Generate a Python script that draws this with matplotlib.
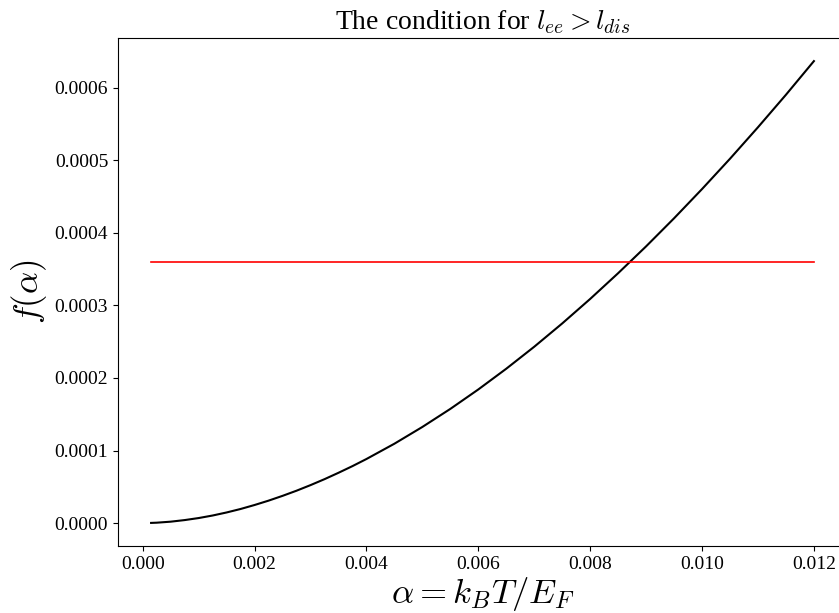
import matplotlib
matplotlib.use('Agg')
import matplotlib.pyplot as plt

# values
alpha = [0.00015, 0.00025, 0.0005, 0.00075, 0.001, 0.00125, 0.0015, 0.00175,
         0.002, 0.00225, 0.0025, 0.00275, 0.003, 0.00325, 0.0035, 0.00375,
         0.004, 0.0045, 0.005, 0.0055, 0.006, 0.0065, 0.007, 0.0075,
         0.008, 0.0085, 0.009, 0.0095, 0.010, 0.0105, 0.011, 0.0115, 0.012]
f_alpha = [0.0000002, 0.0000005, 0.0000019, 0.0000041, 0.0000069, 0.0000104,
           0.0000146, 0.0000194, 0.0000249, 0.0000309, 0.0000375, 0.0000446,
           0.0000523, 0.0000605, 0.0000693, 0.0000785, 0.0000883, 0.0001094,
           0.0001325, 0.0001574, 0.0001842, 0.0002128, 0.0002431, 0.0002752,
           0.0003090, 0.0003445, 0.0003815, 0.0004202, 0.0004605, 0.0005023,
           0.0005457, 0.0005905, 0.0006369]
limit_x = [0.00015, 0.012]
limit_y = [0.00036, 0.00036]

plt.rcParams['font.family'] = ['Liberation Serif', 'DejaVu Serif']
plt.rcParams['mathtext.fontset'] = 'cm'

fig = plt.figure(figsize=(8.39, 6.13), dpi=100)
ax = fig.add_axes([0.1406, 0.1093, 0.869, 0.8287])

ax.plot(alpha, f_alpha, color='black', linewidth=1.5)
ax.plot(limit_x, limit_y, color='red', linewidth=1.2)

ax.set_title(r'The condition for $l_{ee} > l_{dis}$', fontsize=20)
ax.set_xlabel(r'$\alpha = k_BT/E_F$', fontsize=25, labelpad=2)
ax.set_ylabel(r'$f(\alpha)$', fontsize=25)
ax.tick_params(labelsize=14)

fig.savefig('out.png', dpi=100)
